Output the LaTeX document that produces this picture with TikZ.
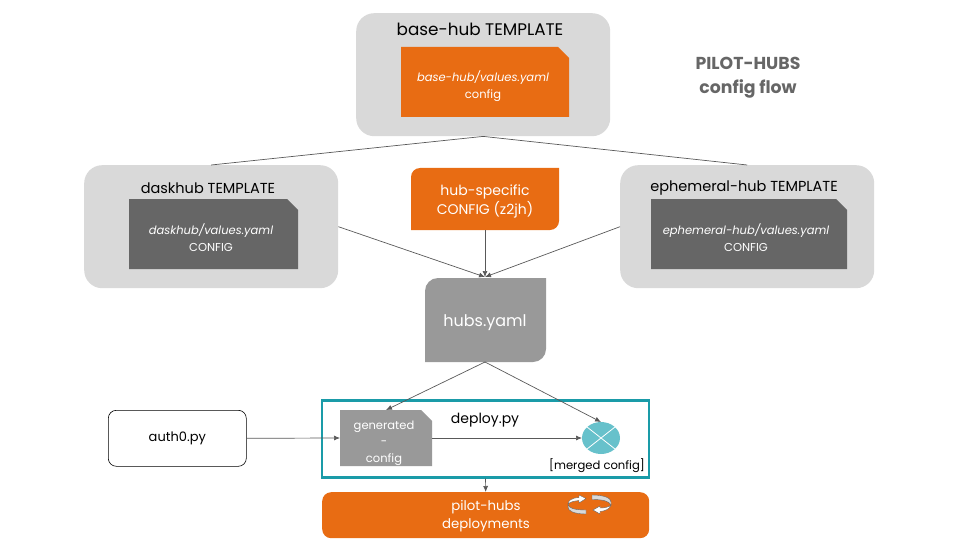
\documentclass[tikz,border=0pt]{standalone}
\usepackage{fontspec}
\setmainfont{Poppins}
\usetikzlibrary{arrows.meta}
\definecolor{hubgrey}{HTML}{D9D9D9}
\definecolor{huborange}{HTML}{E86C13}
\definecolor{hubdark}{HTML}{666666}
\definecolor{hubmid}{HTML}{999999}
\definecolor{hubteal}{HTML}{1A9BA8}
\definecolor{hubcyan}{HTML}{67C1CB}
\tikzset{
	flow/.style={draw=black!65,line width=.7pt,-{Latex[length=6pt,width=5pt]}},
	link/.style={draw=black!65,line width=.7pt},
	template/.style={fill=hubgrey,rounded corners=18pt,minimum width=254pt,minimum height=123pt},
	heading/.style={font=\fontsize{14.5}{16}\selectfont,text=black},
	inner/.style={font=\fontsize{11.5}{17}\selectfont,text=white,align=center},
	big/.style={font=\fontsize{14}{19}\selectfont,text=white,align=center},
}
% folded sheet: x1,y1,x2,y2,colour
\newcommand{\sheet}[5]{\fill[#5] (#1,#2) -- (#3-11,#2) -- (#3,#2+11) -- (#3,#4) -- (#1,#4) -- cycle;}
\begin{document}
\begin{tikzpicture}[x=1pt,y=-1pt]
	\useasboundingbox (0,0) rectangle (960,540);
	%=========== templates, from top to bottom ===========================
	\node[template,anchor=north west] (base) at (356,13) {};
	\node[template,anchor=north west] (dask) at (84,165) {};
	\node[template,anchor=north west] (ephemeral) at (620,165) {};
	\node[heading,font=\fontsize{16.8}{18}\selectfont] (basetitle) at (480,29) {base-hub TEMPLATE};
	\node[heading] (dasktitle) at (208,188) {daskhub TEMPLATE};
	\node[heading] (ephemeraltitle) at (744,188) {ephemeral-hub TEMPLATE};
	\sheet{401}{47}{569}{117}{huborange}
	\sheet{129}{199}{298}{269}{hubdark}
	\sheet{651}{199}{847}{269}{hubdark}
	\node[inner] (baseconfig) at (483,86) {\textit{base-hub/values.yaml}\\config};
	\node[inner] (daskconfig) at (211,238) {\textit{daskhub/values.yaml}\\CONFIG};
	\node[inner] (ephemeralconfig) at (746,238) {\textit{ephemeral-hub/values.yaml}\\CONFIG};
	%=========== title ===========================
	\node[font=\bfseries\fontsize{17.3}{24}\selectfont,text=hubdark,align=center] (title) at (748,78) {PILOT-HUBS\\config flow};
	%=========== hub config and hubs.yaml ===========================
	\fill[huborange] (411,230) [rounded corners=9pt] -- (411,168) [sharp corners] -- (559,168) [rounded corners=9pt] -- (559,230) [sharp corners] -- cycle;
	\node[big] (specific) at (485,201) {hub-specific\\CONFIG (z2jh)};
	\coordinate (specificin) at (485,230);
	\fill[hubmid] (425,362) [rounded corners=13pt] -- (425,278) [sharp corners] -- (546,278) [rounded corners=13pt] -- (546,362) [sharp corners] -- cycle;
	\node[big,font=\fontsize{16}{19}\selectfont] (hubs) at (485,323) {hubs.yaml};
	\coordinate (hubstop) at (485,277);
	\coordinate (hubsbottom) at (485,362);
	%=========== deploy box ===========================
	\node[draw=hubteal,line width=2.2pt,minimum width=327.5pt,minimum height=77pt,anchor=north west] (deploy) at (320.7,399.3) {};
	\sheet{340}{410}{432}{466}{hubmid}
	\node[inner,font=\fontsize{11.5}{16.5}\selectfont] (generated) at (384,443) {generated\\-\\config};
	\coordinate (generatedtop) at (386,410);
	\coordinate (generatedleft) at (340,438);
	\coordinate (generatedright) at (432,438);
	\node[heading,font=\fontsize{14}{16}\selectfont] (deploytitle) at (485,420) {deploy.py};
	\fill[hubcyan] (601,438) ellipse (19 and 16);
	\draw[white,line width=.8pt] (587,427) -- (615,449) (587,449) -- (615,427);
	\coordinate (mergeleft) at (582,438);
	\coordinate (mergetop) at (601,422);
	\node[font=\fontsize{11.6}{13}\selectfont] (merged) at (597,466) {[merged config]};
	%=========== bottom row ===========================
	\node[draw=black,line width=.6pt,rounded corners=8pt,minimum width=138pt,minimum height=56pt,anchor=north west,font=\fontsize{13}{15}\selectfont] (auth) at (108,410) {auth0.py};
	\node[fill=huborange,rounded corners=9pt,minimum width=327pt,minimum height=46pt,anchor=north west] (pilot) at (322,492) {};
	\node[inner,font=\fontsize{13.3}{18}\selectfont] (pilottext) at (486,516) {pilot-hubs\\deployments};
	%=========== cycle icon ===========================
	\filldraw[fill=hubgrey,draw=hubdark,line width=.4pt] (568,504) .. controls (568,508) and (574,510) .. (586,510) -- (586,514) .. controls (574,514) and (568,511) .. (568,507) -- cycle;
	\filldraw[fill=white,draw=hubdark,line width=.4pt] (586,498.5) -- (579,495) -- (579,497.5) .. controls (571,498) and (568,501) .. (568,504) .. controls (570,502) and (574,501) .. (579,500.5) -- (579,503) -- cycle;
	\filldraw[fill=hubgrey,draw=hubdark,line width=.4pt] (592,495) .. controls (604,495) and (611,498) .. (611,502) -- (611,505) .. controls (609,501) and (603,499.5) .. (592,499.5) -- cycle;
	\filldraw[fill=white,draw=hubdark,line width=.4pt] (593,510) -- (600,506) -- (600,508) .. controls (605,508) and (609,507) .. (611,505) .. controls (610,509) and (605,511) .. (600,511.5) -- (600,514) -- cycle;
	%=========== connectors ===========================
	\draw[link] (base.south) -- (dask.north);
	\draw[link] (base.south) -- (ephemeral.north);
	\draw[flow] (dask.east) -- (hubstop);
	\draw[flow] (ephemeral.west) -- (hubstop);
	\draw[flow] (specificin) -- (hubstop);
	\draw[flow] (hubsbottom) -- (generatedtop);
	\draw[flow] (hubsbottom) -- (mergetop);
	\draw[flow] (auth.east) -- (generatedleft);
	\draw[flow] (generatedright) -- (mergeleft);
	\draw[flow] (deploy.south) -- (pilot.north);
\end{tikzpicture}
\end{document}
